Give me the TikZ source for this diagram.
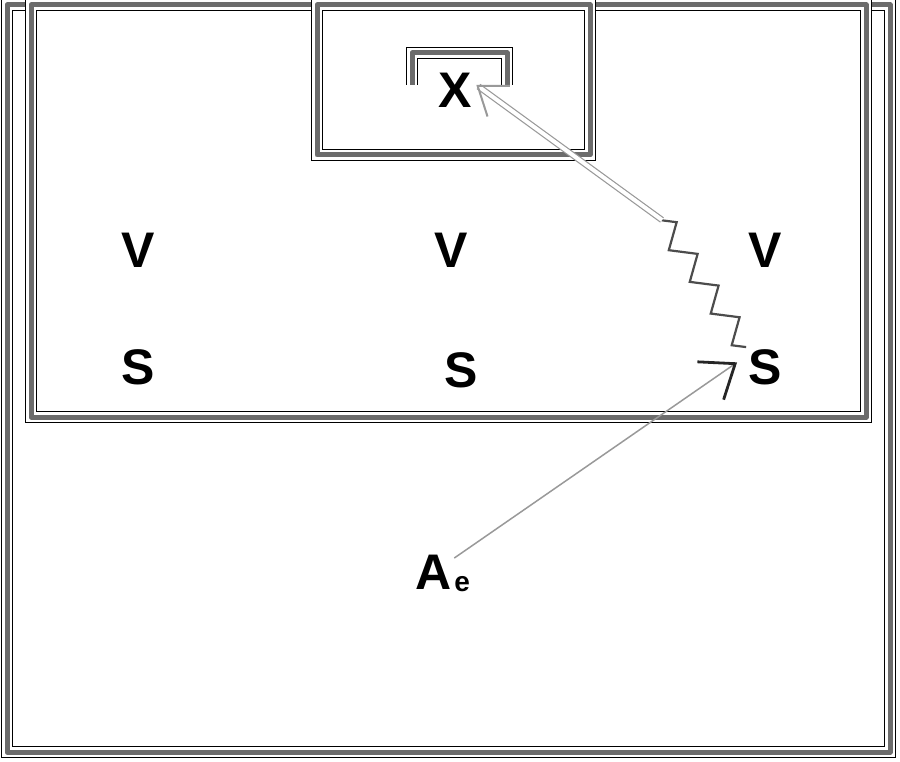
\documentclass[tikz,border=0pt]{standalone}
\usepackage{fontspec}
\setmainfont{Liberation Sans}
\usetikzlibrary{arrows.meta,decorations.pathmorphing}
\tikzstyle{player}=[inner sep=2pt, font=\fontsize{50}{50}\selectfont\bfseries]
\tikzstyle{courtline}=[preaction={draw=black, line width=1pt, double=white, double distance=10pt},
    draw=gray!85!black, line width=5pt, line join=round]
\newcommand{\player}{\node[player]}

\begin{document}
\begin{tikzpicture}[x=1pt, y=-1pt
    ,pass/.style={draw=gray!80, line width=1.5pt, shorten >=11pt,
        -{Straight Barb[length=30pt,width=46pt,line width=2.8pt,black!85]}}
    ,shot/.style={draw=gray!80, line width=1.2pt, double=white, double distance=4pt,
        shorten >=3pt, -{Straight Barb[length=26pt,width=38pt,line width=2pt]}}
    ,dribble/.style={draw=gray!60!black, line width=2.2pt, decorate,
        decoration={zigzag, segment length=38pt, amplitude=11pt}}
]
\useasboundingbox (0,0) rectangle (900,762);
% court lines
\draw[courtline] (7,5) rectangle (890,752);
\draw[courtline] (31,5) rectangle (866,417);
\draw[courtline] (317,5) rectangle (590,155);
\draw[courtline] (412,85) -- (412,53) -- (507,53) -- (507,85);

\player (x) at (455,90) {X};
\player (v1) at (138,250) {V};
\player (v2) at (451,250) {V};
\player (v3) at (765,250) {V};
\player (s1) at (138,367) {S};
\player (s2) at (461,370) {S};
\player (s3) at (765,367) {S};
\player (A) at (434,572) {A};
\node[player, font=\fontsize{28}{28}\selectfont\bfseries, inner sep=0pt, anchor=base west]
    (Ae) at ([yshift=-2pt]A.base east) {e};
\coordinate (zz) at (662,220);

\draw[pass] (A) -- (s3.150);
\draw[dribble] (s3.north west) -- (zz);
\draw[shot] (zz) -- (x.20);
\end{tikzpicture}
\end{document}
